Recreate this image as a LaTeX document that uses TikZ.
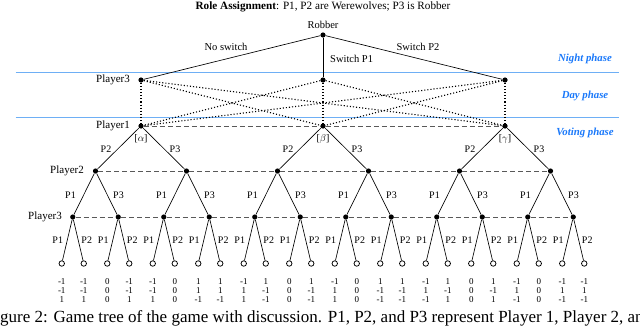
\documentclass[tikz,border=0pt]{standalone}
\usepackage{fontspec}
\setmainfont{Liberation Serif}
\definecolor{phaseblue}{RGB}{25,120,250}
\definecolor{lineblue}{RGB}{110,175,245}
\tikzset{
  dec/.style={circle,fill=black,inner sep=0pt,minimum size=5.2pt},
  leaf/.style={circle,draw=black,line width=0.75pt,fill=white,inner sep=0pt,minimum size=5.5pt},
  tedge/.style={line width=0.65pt},
  infoset/.style={draw=black!65,line width=0.75pt,dash pattern=on 5pt off 3pt},
  dotline/.style={line width=1.1pt,dash pattern=on 1.1pt off 2pt,line cap=butt},
  lbl/.style={font=\fontsize{10.5}{12}\selectfont,inner sep=0pt},
  plbl/.style={font=\fontsize{11}{13}\selectfont,inner sep=0pt,anchor=east},
  elbl/.style={font=\fontsize{10}{12}\selectfont,inner sep=0pt},
  val/.style={font=\fontsize{9}{10}\selectfont,inner sep=0pt},
  phase/.style={font=\fontsize{10.8}{13}\selectfont\bfseries\itshape,text=phaseblue,inner sep=0pt},
  bline/.style={draw=lineblue,line width=1pt}
}
\begin{document}
\begin{tikzpicture}[x=1pt,y=-1pt]
\useasboundingbox (0,0) rectangle (640,327);
\clip (0,0) rectangle (640,327);
% title
\node[font=\fontsize{11.2}{13}\selectfont,inner sep=0pt] (title) at (323,7) {\textbf{Role Assignment}: P1, P2 are Werewolves; P3 is Robber};
% phase lines
\draw[bline] (15.5,72) -- (619,72);
\draw[bline] (15.5,117) -- (619,117);
\node[phase] (ph1) at (585,59) {Night phase};
\node[phase] (ph2) at (585,96) {Day phase};
\node[phase] (ph3) at (585,133) {Voting phase};
% robber
\node[dec] (r) at (323,35) {};
\node[lbl] (rl) at (323,25) {Robber};
\node[dec] (d1) at (141,80) {};
\node[dec] (d2) at (323,80) {};
\node[dec] (d3) at (505,80) {};
\draw[tedge] (r) -- (d1);
\draw[tedge] (r) -- (d2);
\draw[tedge] (r) -- (d3);
\node[lbl] (ns) at (226,47) {No switch};
\node[lbl,anchor=west] (s1) at (330,59) {Switch P1};
\node[lbl] (s2) at (418,47) {Switch P2};
\node[plbl] (pl3a) at (130,80) {Player3};
% voting level
\node[dec] (v1) at (141,126) {};
\node[dec] (v2) at (323,126) {};
\node[dec] (v3) at (505,126) {};
\node[plbl] (pl1) at (130,126) {Player1};
\foreach \i in {1,2,3}{
  \foreach \j in {1,2,3}{
    \draw[dotline] (d\i) -- (v\j);
  }
}
\draw[infoset] (v1) -- (v2);
\draw[infoset] (v2) -- (v3);
\node[elbl] (ga) at (141,138.5) {[$\alpha$]};
\node[elbl] (gb) at (323,138.5) {[$\beta$]};
\node[elbl] (gc) at (505,138.5) {[$\gamma$]};
% player2 level
\foreach \j in {1,...,6}{
  \pgfmathsetmacro\xb{95.5+(\j-1)*91}
  \node[dec] (b\j) at (\xb,171) {};
}
\node[plbl] (pl2) at (84,171) {Player2};
\draw[infoset] (b1) -- (b2);
\foreach \j [evaluate=\j as \n using int(\j+1)] in {2,...,5}{
  \draw[infoset] (b\j) -- (b\n);
}
\foreach \i in {1,2,3}{
  \pgfmathtruncatemacro\ba{2*\i-1}
  \pgfmathtruncatemacro\bb{2*\i}
  \pgfmathsetmacro\xv{141+(\i-1)*182}
  \draw[tedge] (v\i) -- (b\ba);
  \draw[tedge] (v\i) -- (b\bb);
  \node[elbl] (lp2v\i) at (\xv-35,149) {P2};
  \node[elbl] (lp3v\i) at (\xv+34,149) {P3};
}
% player3 level
\foreach \k in {1,...,12}{
  \pgfmathsetmacro\xc{72.75+(\k-1)*45.5}
  \node[dec] (c\k) at (\xc,217) {};
}
\node[plbl] (pl3b) at (62,217) {Player3};
\foreach \k [evaluate=\k as \n using int(\k+1)] in {1,...,11}{
  \draw[infoset] (c\k) -- (c\n);
}
\foreach \j in {1,...,6}{
  \pgfmathtruncatemacro\ca{2*\j-1}
  \pgfmathtruncatemacro\cb{2*\j}
  \pgfmathsetmacro\xb{95.5+(\j-1)*91}
  \draw[tedge] (b\j) -- (c\ca);
  \draw[tedge] (b\j) -- (c\cb);
  \node[elbl] (lp1b\j) at (\xb-25,195) {P1};
  \node[elbl] (lp3b\j) at (\xb+23,195) {P3};
}
% leaves
\foreach \i/\a/\b/\c in {1/-1/-1/1,2/-1/-1/1,3/0/0/0,4/-1/-1/1,5/-1/-1/1,6/0/0/0,
  7/1/1/-1,8/1/1/-1,9/-1/1/1,10/1/-1/-1,11/0/0/0,12/1/-1/-1,
  13/-1/1/1,14/0/0/0,15/1/-1/-1,16/1/-1/-1,17/-1/1/-1,18/1/-1/1,
  19/0/0/0,20/1/-1/1,21/-1/1/-1,22/0/0/0,23/-1/1/-1,24/-1/1/-1}{
  \pgfmathtruncatemacro\kk{int((\i+1)/2)}
  \pgfmathsetmacro\side{ifthenelse(mod(\i,2)==1,-11,11)}
  \pgfmathsetmacro\xl{72.75+(\kk-1)*45.5+\side}
  \node[leaf] (l\i) at (\xl,263.5) {};
  \draw[tedge] (c\kk) -- (l\i);
  \node[val] (va\i) at (\xl,282) {\a};
  \node[val] (vb\i) at (\xl,291) {\b};
  \node[val] (vc\i) at (\xl,300) {\c};
}
\foreach \k in {1,...,12}{
  \pgfmathsetmacro\xc{72.75+(\k-1)*45.5}
  \node[elbl] (lp1c\k) at (\xc-15,240) {P1};
  \node[elbl] (lp2c\k) at (\xc+14,240) {P2};
}
% caption (cut off at both edges, as in the reference)
\node[font=\fontsize{17}{19}\selectfont,inner sep=0pt,anchor=base west] (cap) at (-14.2,322) {Figure 2: Game tree of the game with discussion. P1, P2, and P3 represent Player 1, Player 2, and Player 3 respectively.};
\end{tikzpicture}
\end{document}
